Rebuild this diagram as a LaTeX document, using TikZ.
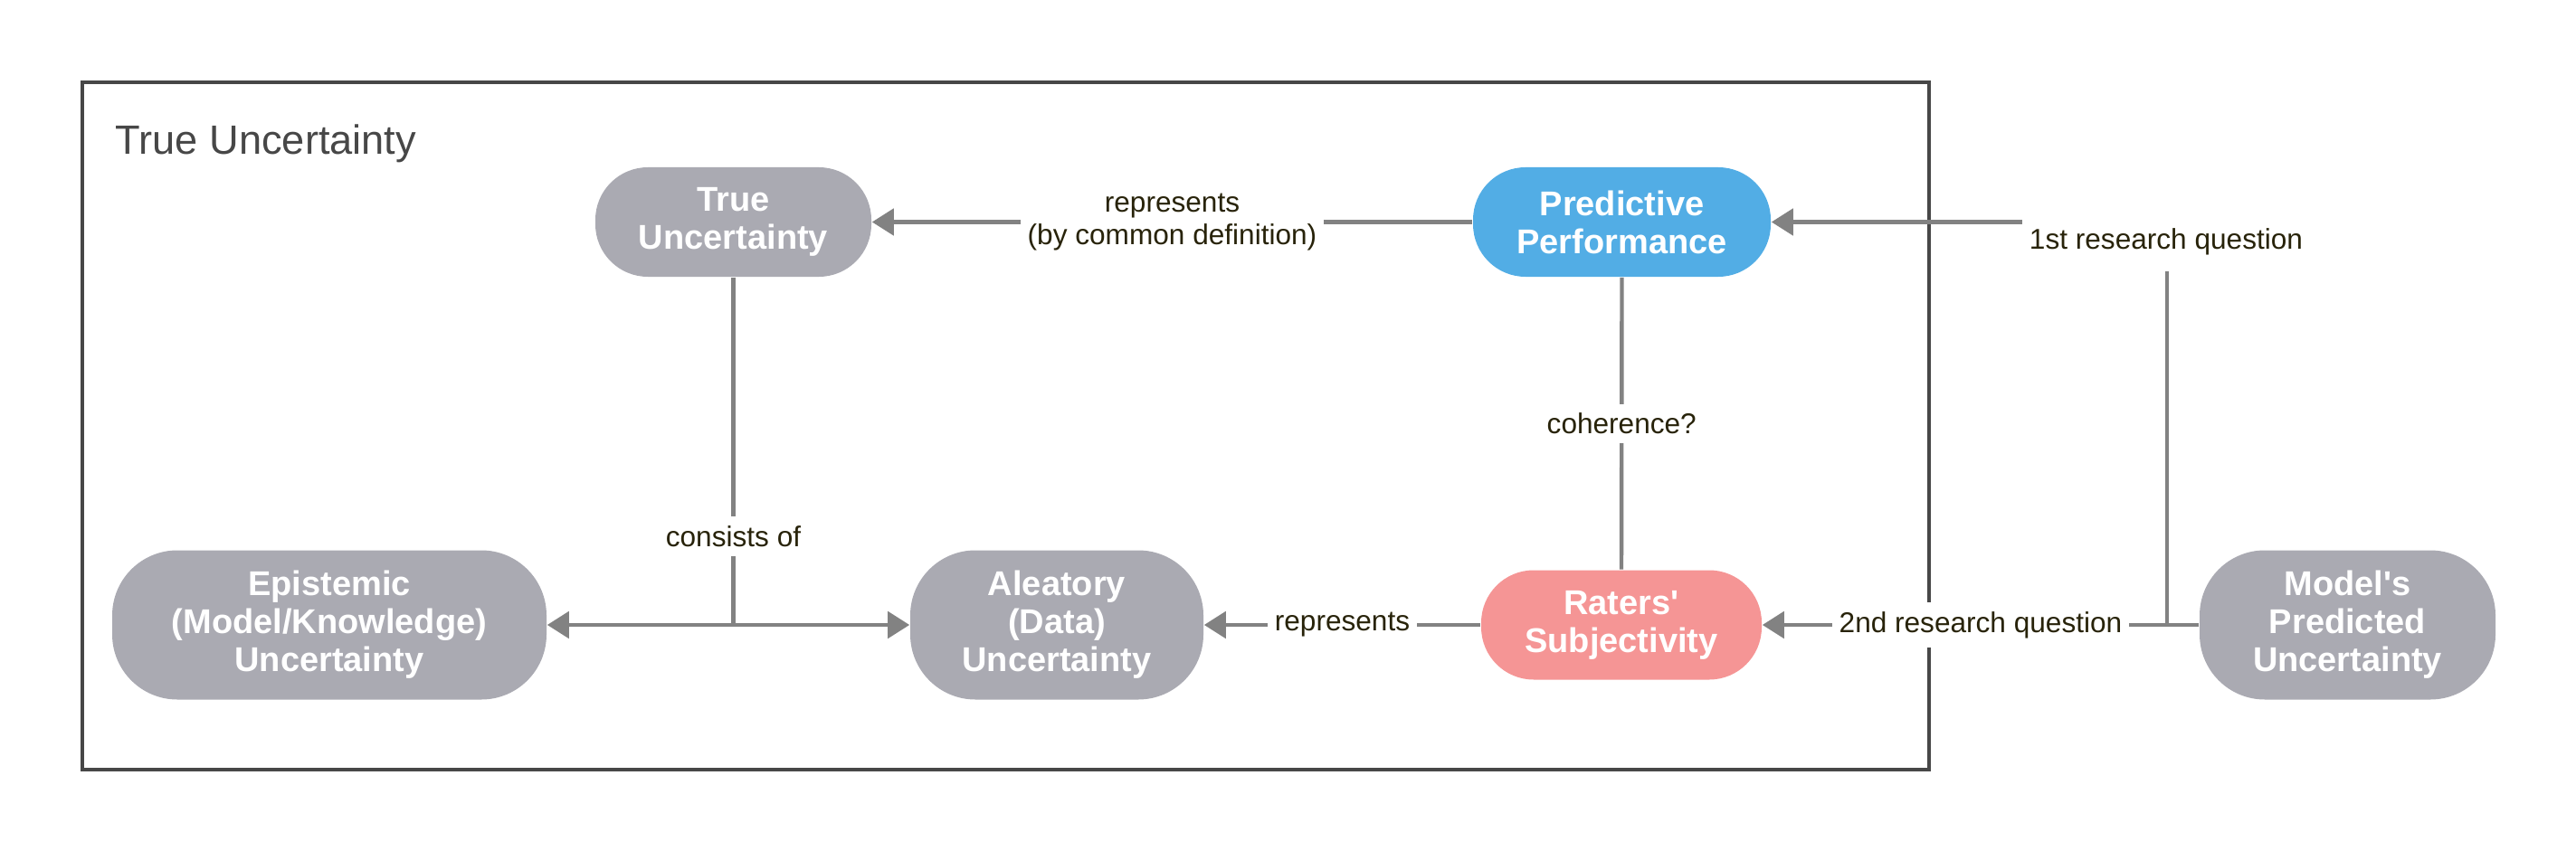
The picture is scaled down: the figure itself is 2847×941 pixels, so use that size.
\documentclass[tikz,border=0pt]{standalone}
\usepackage{fontspec}
\setmainfont{Liberation Sans}
\usetikzlibrary{arrows.meta}
\definecolor{nodegrey}{HTML}{AAAAB2}
\definecolor{nodeblue}{HTML}{52ADE5}
\definecolor{nodepink}{HTML}{F59595}
\definecolor{edgegrey}{HTML}{828282}
\definecolor{lbltext}{HTML}{28230A}
\definecolor{boxgrey}{HTML}{474747}
\tikzset{
  concept/.style={rectangle, rounded corners=14.5pt, draw=none, text=white,
    font=\bfseries\fontsize{9.5}{10.5}\selectfont, align=center,
    minimum height=30.25pt, inner sep=0pt},
  bigconcept/.style={concept, rounded corners=18pt, minimum height=41.25pt},
  edge/.style={draw=edgegrey, line width=1.1pt},
  arr/.style={-{Triangle[length=6pt,width=7.3pt]}},
  lbl/.style={fill=white, text=lbltext, font=\fontsize{7.9}{9}\selectfont,
    inner xsep=1.9pt, inner ysep=2.5pt, align=center},
}
\begin{document}
\begin{tikzpicture}[x=0.25pt,y=-0.25pt]
\useasboundingbox (0,0) rectangle (2847,941);
% outer box
\draw[boxgrey, line width=0.8pt] (91,91) rectangle (2132,851);
\node[anchor=base west, inner sep=0pt, text=boxgrey, font=\fontsize{11.3}{13}\selectfont] (title) at (127,171) {True Uncertainty};
% nodes
\node[concept, fill=nodegrey, minimum width=76.25pt] (true) at (810.5,245.5) {True\\Uncertainty};
\node[concept, fill=nodeblue, minimum width=82.25pt] (pred) at (1792.5,245.5) {Predictive\\Performance};
\node[concept, fill=nodepink, minimum width=77.5pt] (rat) at (1792,691) {Raters\textquotesingle\\Subjectivity};
\node[bigconcept, fill=nodegrey, minimum width=120pt] (epi) at (364,691) {Epistemic\\(Model/Knowledge)\\Uncertainty};
\node[bigconcept, fill=nodegrey, minimum width=81pt] (ale) at (1168,691) {Aleatory\\(Data)\\Uncertainty};
\node[bigconcept, fill=nodegrey, minimum width=81.75pt] (mod) at (2594.5,691) {Model\textquotesingle s\\Predicted\\Uncertainty};
% coordinates
\coordinate (j) at (true.south |- epi.east);
\coordinate (k) at (2395,691);
\coordinate (c1) at (k |- pred.east);
% edges
\draw[edge, arr] (pred.west) -- (true.east) node[lbl, midway] {represents\\(by common definition)};
\draw[edge] (true.south) -- (j) node[lbl, pos=0.745] {consists of};
\draw[edge, arr] (j) -- (epi.east);
\draw[edge, arr] (j) -- (ale.west);
\draw[edge] (pred.south) -- (rat.north) node[lbl, midway] {coherence?};
\draw[edge, arr] (rat.west) -- (ale.east) node[lbl, midway] {represents};
\draw[edge, arr] (mod.west) -- (rat.east) node[lbl, midway] {2nd research question};
\draw[edge, arr] (mod.west) -- (k) -- (c1) -- (pred.east);
\node[lbl, inner ysep=4.5pt] (q1) at (2394,267) {1st research question};
\end{tikzpicture}
\end{document}
